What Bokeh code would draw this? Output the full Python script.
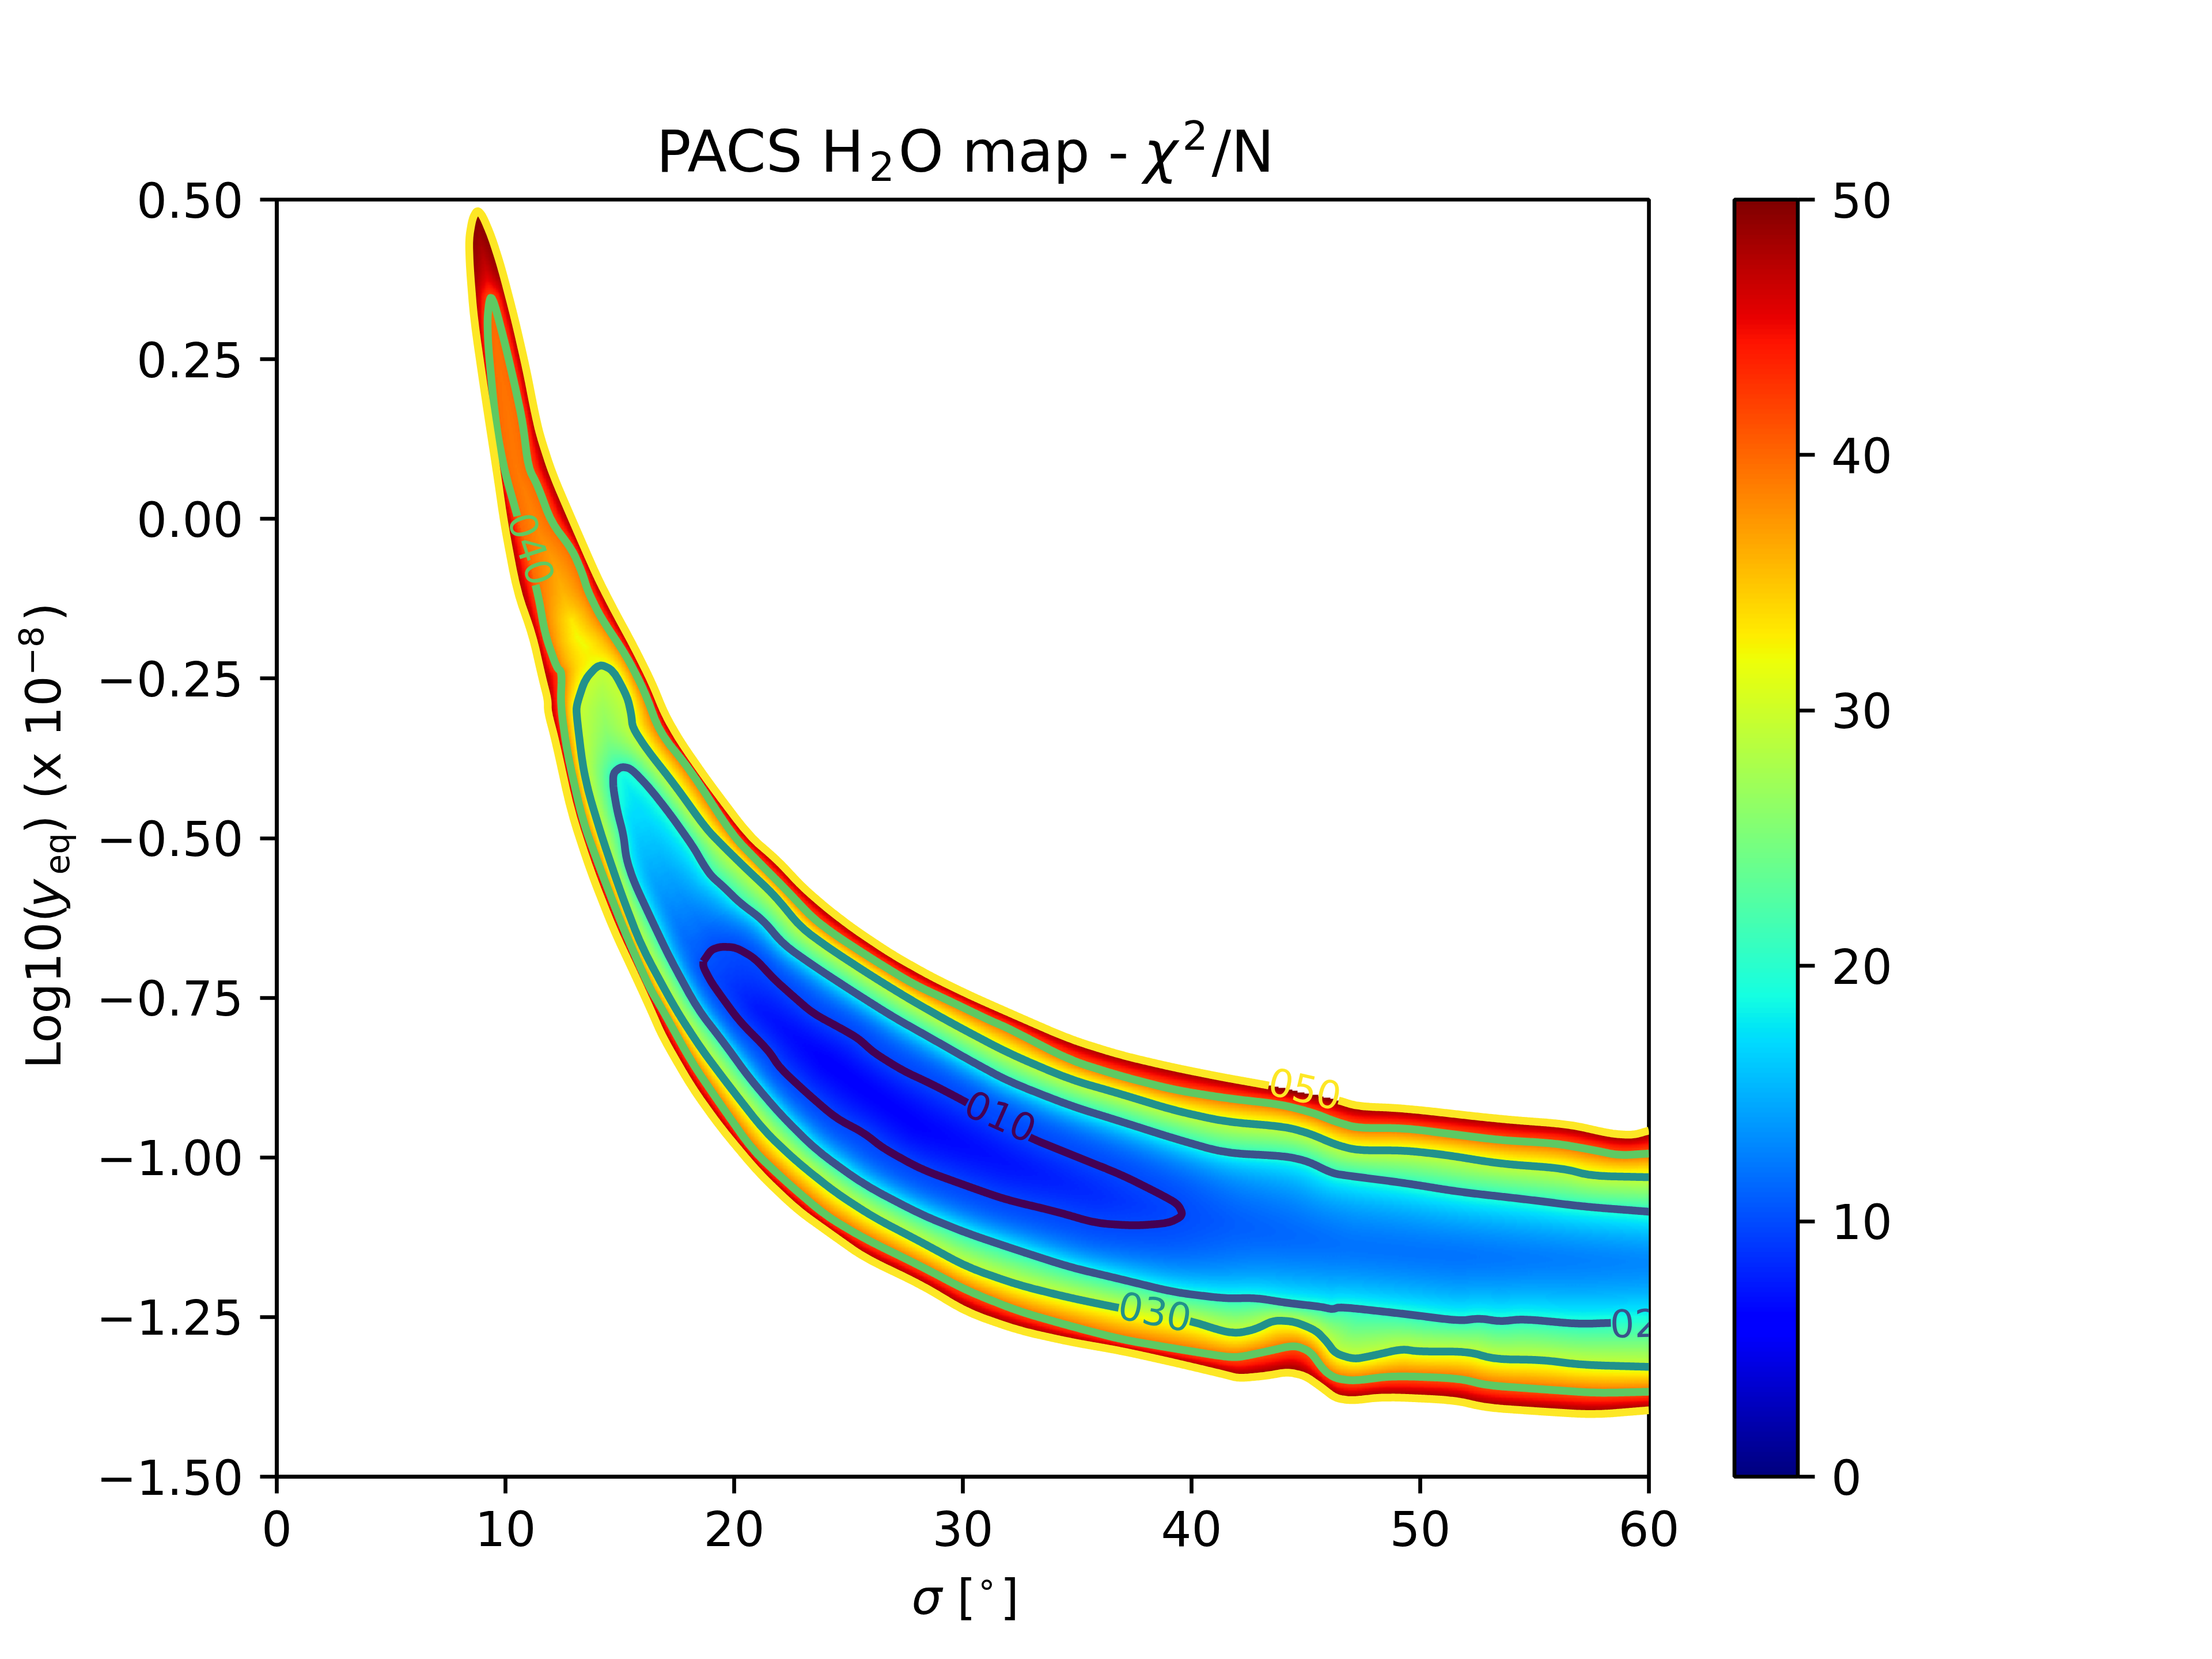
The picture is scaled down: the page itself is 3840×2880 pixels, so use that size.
import numpy as np
from bokeh.plotting import figure
from bokeh.layouts import column
from bokeh.models import LinearColorMapper, ColorBar, FixedTicker
from bokeh.core.properties import value
from bokeh.embed import file_html
from bokeh.resources import INLINE

# ---------- values ----------
x_ticks = [0, 10, 20, 30, 40, 50, 60]
y_ticks = [-1.5, -1.25, -1.0, -0.75, -0.5, -0.25, 0.0, 0.25, 0.5]
y_tick_labels = ["\u22121.50", "\u22121.25", "\u22121.00", "\u22120.75", "\u22120.50", "\u22120.25", "0.00", "0.25", "0.50"]
cbar_ticks = [0, 10, 20, 30, 40, 50]

level50_s = [60,57.6,55.3,52.9,51.46,48.45,47.0,46.29,45.68,44.96,44.2,43.27,42.07,41.44,39.2,36.93,34.69,32.44,30.2,28.2,25.69,24.27,22.75,21.08,19.4,18.14,16.88,16.33,15.73,14.71,13.7,12.86,12.19,11.85,11.85,11.62,11.18,10.5,9.95,9.63,9.11,8.62,8.44,8.40,8.55,8.76,9.0,9.39,9.82,10.41,10.92,11.25,11.5,12.05,13.01,14.0,14.71,15.62,16.4,16.97,17.64,18.88,20.65,21.91,23,24.1,25.27,26.95,28.64,30.3,32,34.69,36.93,39.2,41.44,43.5,46.29,47.25,49.3,53.5,56.5,58.35,59.3,60]
level50_y = [-1.396,-1.403,-1.398,-1.392,-1.38,-1.375,-1.381,-1.377,-1.36,-1.342,-1.336,-1.342,-1.346,-1.34,-1.321,-1.303,-1.289,-1.271,-1.243,-1.2,-1.157,-1.121,-1.082,-1.025,-.953,-.89,-.812,-.767,-.72,-.642,-.55,-.458,-.348,-.302,-.283,-.251,-.182,-.113,-.009,.071,.192,.313,.394,.438,.47,.484,.475,.442,.394,.313,.233,.172,.132,.071,-.009,-.09,-.14,-.2,-.256,-.306,-.348,-.412,-.496,-.535,-.577,-.611,-.643,-.683,-.717,-.746,-.773,-.815,-.84,-.859,-.875,-.888,-.909,-.92,-.923,-.94,-.948,-.963,-.965,-.958]

level40_s = [60,57.7,55.3,52.9,51.7,48.8,47.1,46.29,45.8,45.2,44.5,43.27,42.07,41.44,39.2,36.93,34.69,32.44,30.2,28.2,25.69,24,22.33,20.82,19.4,18.14,16.84,16.29,15.16,14.16,13.37,12.7,12.41,12.47,12.24,11.74,11.4,10.5,9.99,9.65,9.45,9.24,9.21,9.28,9.36,9.48,9.61,9.99,10.41,10.75,11,11.41,12,12.93,13.36,13.6,14.16,15.28,16.07,16.74,18.09,19.94,21.08,22.25,23.43,24.43,26.11,27.8,29.47,31.15,32,34.69,36.93,39.2,41.44,43.9,45.3,46.29,47.25,49.3,51.7,53.5,55.9,57.5,58.7,60]
level40_y = [-1.367,-1.369,-1.363,-1.357,-1.346,-1.342,-1.35,-1.346,-1.334,-1.304,-1.294,-1.304,-1.313,-1.312,-1.299,-1.285,-1.264,-1.241,-1.209,-1.171,-1.127,-1.091,-1.04,-.989,-.917,-.851,-.767,-.734,-.642,-.55,-.472,-.366,-.292,-.24,-.233,-.182,-.113,.007,.071,.132,.192,.273,.313,.338,.348,.34,.325,.273,.209,.152,.08,.052,-.005,-.049,-.085,-.113,-.154,-.214,-.269,-.334,-.394,-.496,-.538,-.58,-.625,-.652,-.691,-.728,-.756,-.785,-.798,-.848,-.873,-.894,-.907,-.917,-.93,-.944,-.954,-.954,-.965,-.973,-.978,-.988,-.997,-.994]

level30_s = [60,57.1,55.3,53.27,52.07,49.9,49.2,47.85,47.1,46.29,45.9,45.44,44.5,43.6,42.8,42.07,41.44,39.86,36.99,34.69,32.44,30.2,28.2,26.11,24.43,22.75,21.33,19.82,18.56,17.42,15.95,15.06,14.27,13.65,13.37,13.09,13.14,13.48,14.1,14.71,15.33,15.5,15.56,16.18,17.41,18.77,19.56,20.5,21.75,22.92,24.18,26.11,27.8,29.47,32,34.69,36.93,39.2,41.44,44.1,45.2,46.29,47.25,49.3,51.1,53.5,56.2,57.5,60]
level30_y = [-1.328,-1.325,-1.317,-1.316,-1.304,-1.304,-1.3,-1.311,-1.316,-1.307,-1.288,-1.271,-1.257,-1.255,-1.269,-1.275,-1.273,-1.255,-1.237,-1.22,-1.2,-1.172,-1.133,-1.094,-1.055,-1.007,-.959,-.89,-.83,-.767,-.67,-.587,-.504,-.431,-.385,-.302,-.288,-.251,-.227,-.237,-.279,-.306,-.327,-.361,-.417,-.485,-.514,-.547,-.589,-.64,-.673,-.718,-.755,-.789,-.837,-.878,-.901,-.926,-.944,-.952,-.963,-.98,-.989,-.989,-.996,-1.01,-1.017,-1.029,-1.031]

level20_s = [60,58.4,56.9,54.5,53.5,52.6,51.7,49.3,46.5,46.16,45.68,44.2,42.8,41.44,39.2,36.93,34.69,32.44,30.2,28.2,25.69,23.6,22,20.65,19.56,18.39,17.19,16.52,15.62,15.28,15.16,14.89,14.71,14.71,15.06,15.49,16.29,17.19,18.2,18.65,18.99,19.56,20.24,21.25,22.17,23.6,25.27,26.95,28.64,30.3,32,34.69,36.93,39.2,41.44,44.1,45.08,46.16,46.9,49.3,51.7,54.7,57.1,60]
level20_y = [-1.258,-1.259,-1.261,-1.253,-1.257,-1.252,-1.256,-1.245,-1.234,-1.238,-1.234,-1.228,-1.22,-1.221,-1.211,-1.191,-1.172,-1.146,-1.119,-1.09,-1.043,-.989,-.932,-.875,-.821,-.767,-.688,-.638,-.569,-.532,-.495,-.458,-.421,-.398,-.388,-.391,-.421,-.462,-.513,-.541,-.559,-.577,-.601,-.628,-.667,-.703,-.742,-.78,-.814,-.848,-.881,-.919,-.944,-.97,-.993,-.998,-1.006,-1.025,-1.029,-1.04,-1.054,-1.066,-1.077,-1.085]

level10_s = [18.65,18.99,19.4,20.07,20.9,21.75,22.5,23.43,24.77,25.44,26.11,27.37,28.63,30.23,32.77,34.69,36.93,38.6,39.41,39.64,39,37.5,35.82,34.1,31.87,30.2,28.2,26.53,25.69,24.43,23.17,22,21.49,20.24,19.4,18.99,18.65,18.65]
level10_y = [-.693,-.675,-.67,-.671,-.688,-.721,-.745,-.774,-.8,-.814,-.836,-.864,-.885,-.915,-.967,-.995,-1.027,-1.057,-1.073,-1.091,-1.103,-1.107,-1.103,-1.085,-1.066,-1.045,-1.019,-.986,-.962,-.938,-.899,-.86,-.832,-.787,-.746,-.725,-.702,-.693]

# lowest values along the floor of the trough
floor_s = [15.6,16.5,18,19.2,21,24,28,32,36,39.5,42.07,46.9,51.7,60]
floor_y = [-.47,-.56,-.66,-.70,-.765,-.85,-.95,-1.01,-1.06,-1.09,-1.107,-1.139,-1.155,-1.165]
floor_v = [17,14.5,11.5,10,7.5,6.2,6.3,7.2,8.5,10,11,12,12,13]
# the pale saddle between the 40 and the 30 contour
saddle_s = [12.9,13.15,13.5]
saddle_y = [-.16,-.186,-.2]
saddle_v = [33,32,32]

label_text = ["010", "020", "030", "040", "050"]
label_s = [31.65, 59.9, 38.4, 11.15, 44.96]
label_y = [-.935, -1.259, -1.241, -.047, -.892]
label_angle = [-24, 1, -11, -72, -13]
levels = [10, 20, 30, 40, 50]
level_colors = ["#440154", "#3b528b", "#21918c", "#5ec962", "#fde725"]

# ---------- helpers ----------
KX, KY = 2382 / 60.0, 2217 / 2.0


def jet(n=256):
    t = np.linspace(0, 1, n)
    r = np.interp(t, [0, .35, .66, .89, 1], [0, 0, 1, 1, .5])
    g = np.interp(t, [0, .125, .375, .64, .91, 1], [0, 0, 1, 1, 0, 0])
    b = np.interp(t, [0, .11, .34, .65, 1], [.5, 1, 1, 0, 0])
    return ["#%02x%02x%02x" % (int(a * 255), int(c * 255), int(d * 255)) for a, c, d in zip(r, g, b)]


def smooth(s, y, it=2, q=.2):
    s, y = np.asarray(s, float), np.asarray(y, float)
    for _ in range(it):
        ss, yy = [s[0]], [y[0]]
        for i in range(len(s) - 1):
            ss += [s[i] + q * (s[i + 1] - s[i]), s[i] + (1 - q) * (s[i + 1] - s[i])]
            yy += [y[i] + q * (y[i + 1] - y[i]), y[i] + (1 - q) * (y[i + 1] - y[i])]
        ss.append(s[-1]); yy.append(y[-1])
        s, y = np.array(ss), np.array(yy)
    return s, y


def dense(s, y, step=4.0, v=None):
    px, py = np.asarray(s, float) * KX, np.asarray(y, float) * KY
    d = np.r_[0, np.cumsum(np.hypot(np.diff(px), np.diff(py)))]
    t = np.arange(0, d[-1] + step, step)
    out = np.interp(t, d, px) / KX, np.interp(t, d, py) / KY
    if v is not None:
        return out + (np.interp(t, d, v),)
    return out


def inside_grid(s, y, xs, ys):
    s = np.asarray(s); y = np.asarray(y)
    if s[-1] >= 60:
        s = np.r_[s, 61, 61]
        y = np.r_[y, y[-1], y[0]]
    x0, y0, x1, y1 = s, y, np.roll(s, -1), np.roll(y, -1)
    mask = np.zeros((len(ys), len(xs)), bool)
    for j, v in enumerate(ys):
        hit = (y0 <= v) != (y1 <= v)
        if not hit.any():
            continue
        c = np.sort(x0[hit] + (v - y0[hit]) * (x1[hit] - x0[hit]) / (y1[hit] - y0[hit]))
        for a, b in zip(c[::2], c[1::2]):
            mask[j, (xs >= a) & (xs < b)] = True
    return mask


def nearest(px, py, qs, qy):
    qx, qq = qs * KX, qy * KY
    dist = np.empty(len(px)); idx = np.empty(len(px), int)
    for i in range(0, len(px), 4000):
        dx = px[i:i + 4000, None].astype(np.float32) - qx[None, :].astype(np.float32)
        dy = py[i:i + 4000, None].astype(np.float32) - qq[None, :].astype(np.float32)
        d2 = dx * dx + dy * dy
        k = d2.argmin(1)
        idx[i:i + 4000] = k
        dist[i:i + 4000] = np.sqrt(d2[np.arange(len(k)), k])
    return np.maximum(dist, .5), idx


paths = {10: (level10_s, level10_y), 20: (level20_s, level20_y), 30: (level30_s, level30_y),
         40: (level40_s, level40_y), 50: (level50_s, level50_y)}
smooth_paths = {k: smooth(*v) for k, v in paths.items()}

# ---------- field drawn from the contours ----------
nx, ny = 1000, 930
xs = (np.arange(nx) + .5) * 60 / nx
ys = -1.5 + (np.arange(ny) + .5) * 2 / ny
masks = {k: inside_grid(*smooth_paths[k], xs, ys) for k in levels}
field = np.full((ny, nx), np.nan)
J, I = np.nonzero(masks[50])
px, py = xs[I] * KX, ys[J] * KY
dist = {k: nearest(px, py, *dense(*smooth_paths[k], 6.0))[0] for k in levels}
fs, fy, fv = dense(floor_s, floor_y, 6.0, floor_v)
d_floor, k_floor = nearest(px, py, fs, fy)
v_floor = fv[k_floor]
ss, sy, sv = dense(saddle_s, saddle_y, 6.0, saddle_v)
d_sad, k_sad = nearest(px, py, ss, sy)
v_sad = sv[k_sad]
in_ = {k: masks[k][J, I] for k in levels}
val = np.zeros(len(I))
a = in_[50] & ~in_[40]
val[a] = ((50 / dist[50] + 40 / dist[40]) / (1 / dist[50] + 1 / dist[40]))[a]
a = in_[40] & ~in_[30]
val[a] = ((40 / dist[40] + 30 / dist[30] + v_sad / d_sad) / (1 / dist[40] + 1 / dist[30] + 1 / d_sad))[a]
a = in_[30] & ~in_[20]
val[a] = ((30 / dist[30] + 20 / dist[20]) / (1 / dist[30] + 1 / dist[20]))[a]
# the trough is flat at its floor and steepens towards the 20 contour
w10, wf = 1 / dist[10], 1 / d_floor
v_in = (10 * w10 + v_floor * wf) / (w10 + wf)
d_in = 1 / (w10 + wf)
t = d_in / (d_in + dist[20])
a = in_[20] & ~in_[10]
val[a] = (v_in + (20 - v_in) * t ** 1.6)[a]
t10 = d_floor / (d_floor + dist[10])
a = in_[10]
val[a] = (v_floor + (10 - v_floor) * t10 ** 1.6)[a]
field[J, I] = val

# ---------- figure ----------
mapper = LinearColorMapper(palette=jet(256), low=0, high=50, nan_color="rgba(0,0,0,0)")
p = figure(width=3824, height=2864, frame_width=2382, frame_height=2217,
           min_border_left=480, min_border_right=962, min_border_top=346, min_border_bottom=301,
           x_range=(0, 60), y_range=(-1.5, 0.5), output_backend="svg", toolbar_location=None,
           background_fill_color="white", border_fill_color="white", frame_align=False)
p.grid.visible = False
p.image(image=[field], x=0, y=-1.5, dw=60, dh=2, color_mapper=mapper)

FONT = "DejaVu Sans"
LW = 6.67
# contour lines, broken only on the stretch that runs under their label
for lev, col in zip(levels, level_colors):
    ds, dy = dense(*smooth_paths[lev], 2.0)
    i = levels.index(lev)
    gap = np.hypot(ds * KX - label_s[i] * KX, dy * KY - label_y[i] * KY)
    k = int(gap.argmin())
    lo, hi = k, k
    while lo > 0 and gap[lo - 1] < 62:
        lo -= 1
    while hi < len(gap) - 1 and gap[hi + 1] < 62:
        hi += 1
    ds = ds.copy(); dy = dy.copy()
    ds[lo:hi + 1] = np.nan; dy[lo:hi + 1] = np.nan
    p.line(ds, dy, line_color=col, line_width=13.5, line_join="round")
    p.text(x=[label_s[i]], y=[label_y[i]], text=[label_text[i]], angle=[label_angle[i]], angle_units="deg",
           text_color=col, text_font=value(FONT), text_font_size="66.7px",
           text_align="center", text_baseline="middle")

for ax in (p.xaxis[0], p.yaxis[0]):
    ax.major_tick_in = 0
    ax.major_tick_out = 29
    ax.minor_tick_line_color = None
    ax.major_tick_line_width = LW
    ax.axis_line_width = LW
    ax.major_tick_line_color = "black"
    ax.axis_line_color = "black"
    ax.major_label_text_font = FONT
    ax.major_label_text_font_size = "83.3px"
    ax.major_label_text_color = "black"
    ax.major_label_standoff = 29
p.xaxis[0].ticker = FixedTicker(ticks=x_ticks)
p.yaxis[0].ticker = FixedTicker(ticks=y_ticks)
p.xaxis[0].major_label_overrides = {t: str(t) for t in x_ticks}
p.yaxis[0].major_label_overrides = dict(zip(y_ticks, y_tick_labels))
p.outline_line_color = "black"
p.outline_line_width = LW
p.outline_line_alpha = 1

bar = ColorBar(color_mapper=mapper, ticker=FixedTicker(ticks=cbar_ticks), location=(2530.5, 0),
               width=110, height=2217, padding=0, margin=0, bar_line_color="black", bar_line_width=LW,
               major_tick_in=0, major_tick_out=29, major_tick_line_color="black", major_tick_line_width=LW,
               minor_tick_line_color=None, major_label_text_font=FONT, major_label_text_font_size="83.3px",
               major_label_text_color="black", label_standoff=29, background_fill_color=None,
               border_line_color=None, major_label_overrides={t: str(t) for t in cbar_ticks})
p.add_layout(bar, "center")

# transparent sheet on top of the plot for the title and axis titles with their sub- and superscripts
W, H = 3824, 2864
sheet = figure(width=W, height=H, x_range=(0, W), y_range=(0, H), min_border=0, x_axis_type=None, y_axis_type=None,
               output_backend="svg", toolbar_location=None, background_fill_color=None, border_fill_color=None,
               outline_line_color=None, margin=(-H, 0, 0, 0), frame_align=False)
sheet.grid.visible = False


def put(text, X, Y, size=83.3, angle=0, style="normal"):
    # X, Y: page pixels of the text's start on its baseline; the glyph sits 0.32 em below or beside that line
    shift = 0.32 * size
    if angle:
        X = X - shift
    else:
        Y = Y - shift
    sheet.text(x=[X], y=[H - Y], text=[text], angle=[angle], angle_units="deg", text_font=value(FONT),
               text_font_size=f"{size}px", text_font_style=style, text_color="black",
               text_align="left", text_baseline="alphabetic")


TITLE = 99.9
# title
put("PACS H", 1139, 295, TITLE)
put("2", 1508, 310, 70)
put("O map - ", 1559, 295, TITLE)
put("\u03c7", 1985, 295, TITLE, style="italic")
put("2", 2052, 256, 70)
put("/N", 2103, 295, TITLE)
# x label
put("\u03c3", 1582, 2800, style="italic")
put("[", 1661, 2800)
put("\u00b0", 1698, 2783, 58)
put("]", 1736, 2800)
# y label
put("Log10(", 103, 1855, angle=90)
put("y", 103, 1575, angle=90, style="italic")
put("eq", 118, 1518, 58, angle=90)
put(")", 103, 1447, angle=90)
put("(x 10", 103, 1387, angle=90)
put("\u22128", 72, 1172, 58, angle=90)
put(")", 103, 1078, angle=90)

open("out.html", "w").write(file_html(column(p, sheet), INLINE))
